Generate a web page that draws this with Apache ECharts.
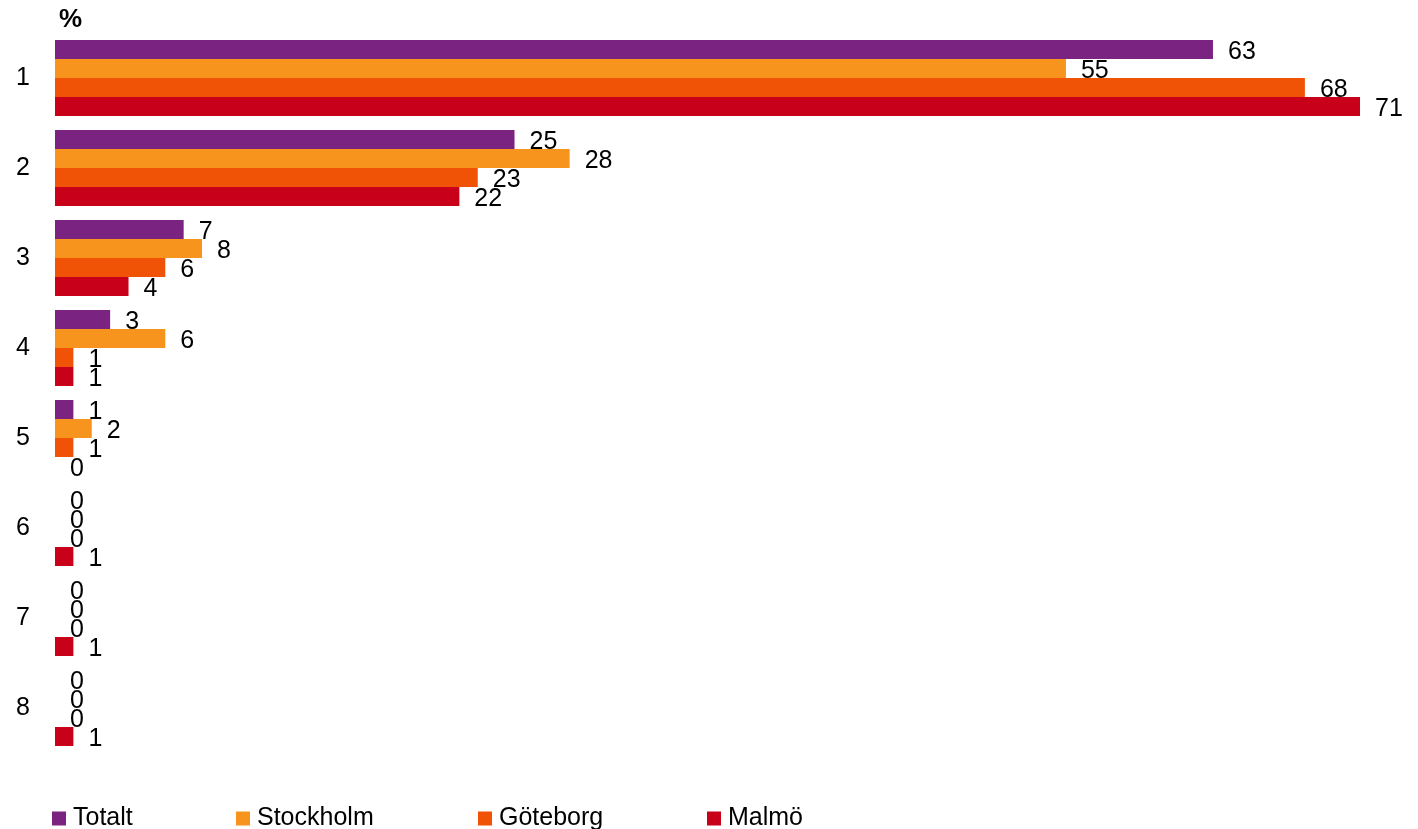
<!DOCTYPE html>
<html>
<head>
<meta charset="utf-8">
<script src="https://cdn.jsdelivr.net/npm/echarts@6/dist/echarts.min.js"></script>
<style>
html,body{margin:0;padding:0;background:#fff;}
#chart{width:1418px;height:829px;}
</style>
</head>
<body>
<div id="chart"></div>
<script>
const categories = ['1','2','3','4','5','6','7','8'];
const seriesNames = ['Totalt','Stockholm','Göteborg','Malmö'];
const totalt    = [63, 25, 7, 3, 1, 0, 0, 0];
const stockholm = [55, 28, 8, 6, 2, 0, 0, 0];
const goteborg  = [68, 23, 6, 1, 1, 0, 0, 0];
const malmo     = [71, 22, 4, 1, 0, 1, 1, 1];
const colors = ['#7B2381', '#F7941D', '#F05206', '#C8001A'];
const values = [totalt, stockholm, goteborg, malmo];
const legendLefts = [52, 236, 478, 707];

const chart = echarts.init(document.getElementById('chart'), null, {renderer:'canvas'});
const font = "'Liberation Sans', Arial, sans-serif";
chart.setOption({
  animation: false,
  color: colors,
  title: {
    text: '%', left: 59, top: 7, padding: 0,
    textStyle: {fontFamily: font, fontSize: 26, fontWeight: 'bold', color: '#000'}
  },
  legend: seriesNames.map((n, i) => ({
    data: [n],
    left: legendLefts[i], top: 806, padding: 0,
    itemWidth: 14, itemHeight: 14, itemGap: 0,
    icon: 'rect',
    textStyle: {fontFamily: font, fontSize: 25, color: '#000', padding: [0, 0, 0, 2]}
  })),
  grid: {left: 55, right: 39.6, top: 33, height: 720, containLabel: false},
  xAxis: {
    type: 'value', min: 0, max: 72,
    show: false
  },
  yAxis: {
    type: 'category', data: categories, inverse: true,
    axisLine: {show: false}, axisTick: {show: false},
    axisLabel: {fontFamily: font, fontSize: 25, color: '#000', margin: 25}
  },
  series: values.map((v, i) => ({
    name: seriesNames[i],
    type: 'bar',
    data: v,
    barWidth: 19,
    barGap: '0%',
    barCategoryGap: '15%',
    itemStyle: {color: colors[i]},
    label: {
      show: true, position: 'right', distance: 15, offset: [0, 3],
      fontFamily: font, fontSize: 25, color: '#000'
    }
  }))
});
</script>
</body>
</html>
